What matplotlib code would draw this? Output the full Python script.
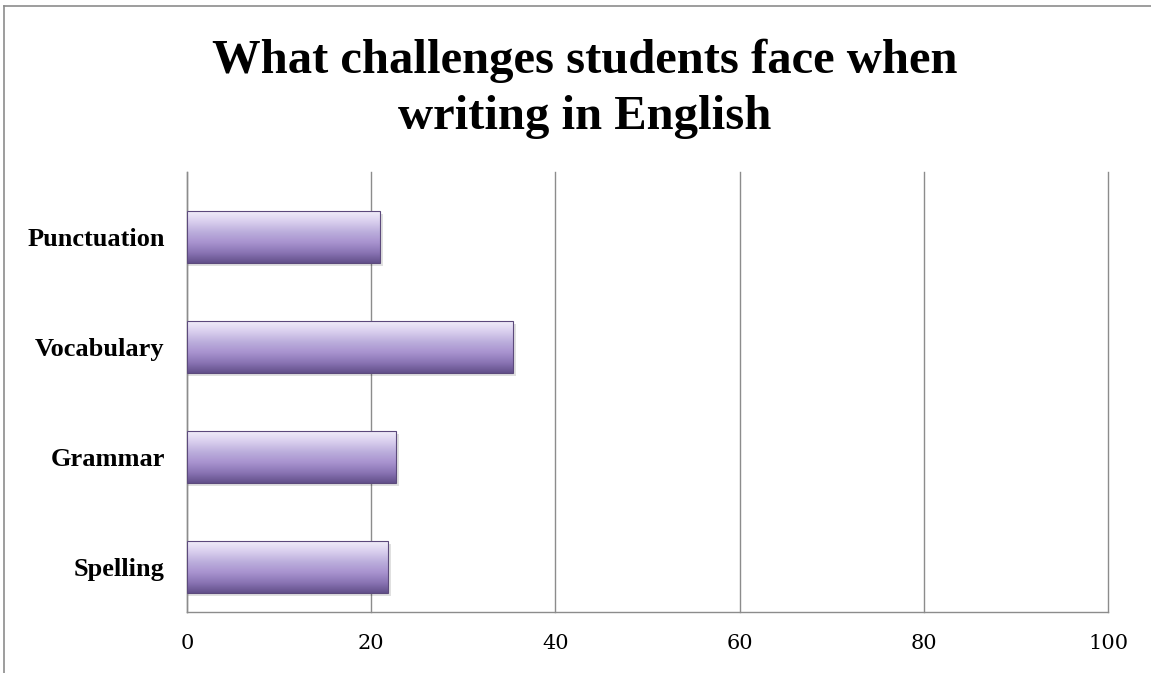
import matplotlib.pyplot as plt
import numpy as np
from matplotlib.colors import LinearSegmentedColormap
from matplotlib.lines import Line2D

# DATA
categories = ['Spelling', 'Grammar', 'Vocabulary', 'Punctuation']
values = [21.8, 22.7, 35.4, 21.0]
xticks = [0, 20, 40, 60, 80, 100]
title = 'What challenges students face when\nwriting in English'

fig = plt.figure(figsize=(11.51, 6.73), dpi=100)
ax = fig.add_axes([0.1625, 0.0906, 0.8002, 0.6538])

# purple gradient, light at top, dark at bottom
cmap = LinearSegmentedColormap.from_list('purp', ['#62508a', '#8a74b4', '#a893cf', '#bcaedc', '#d9cfee', '#f1edf9'])
grad = np.linspace(0, 1, 256).reshape(-1, 1)
h = 0.47
y = np.arange(len(categories))
for i, v in zip(y, values):
    # shadow
    ax.barh(i - 0.03, v + 0.3, height=h, color='#000000', alpha=0.12, zorder=2)
    ax.imshow(grad, cmap=cmap, aspect='auto', origin='lower',
              extent=[0, v, i - h / 2, i + h / 2], zorder=3)
    ax.barh(i, v, height=h, fill=False, edgecolor='#5c4a7c', linewidth=0.8, zorder=4)

ax.set_xlim(0, 100)
ax.set_ylim(-0.41, 3.59)
ax.set_xticks(xticks)
ax.set_xticklabels([str(t) for t in xticks], family='DejaVu Serif', fontsize=15)
ax.set_yticks(y)
ax.set_yticklabels(categories, family='Liberation Serif', fontweight='bold', fontsize=19)
ax.tick_params(axis='both', length=0)
ax.tick_params(axis='x', pad=16)
ax.tick_params(axis='y', pad=16)
ax.grid(axis='x', color='#8c8c8c', linewidth=1.0, zorder=1)
for gl in ax.get_xgridlines():
    gl.set_clip_on(False)
ax.set_axisbelow(True)
for s in ['top', 'right']:
    ax.spines[s].set_visible(False)
for s in ['left', 'bottom']:
    ax.spines[s].set_color('#8c8c8c')
    ax.spines[s].set_linewidth(1.0)

fig.text(0.508, 0.868, title, ha='center', va='center', family='Liberation Serif',
         fontweight='bold', fontsize=35, linespacing=1.35)

# outer chart frame (partially visible)
fig.add_artist(Line2D([4 / 1151, 1], [1 - 6 / 673, 1 - 6 / 673], color='#8c8c8c', lw=1.2))
fig.add_artist(Line2D([4 / 1151, 4 / 1151], [0, 1 - 6 / 673], color='#8c8c8c', lw=1.2))

plt.savefig('out.png', dpi=100)
